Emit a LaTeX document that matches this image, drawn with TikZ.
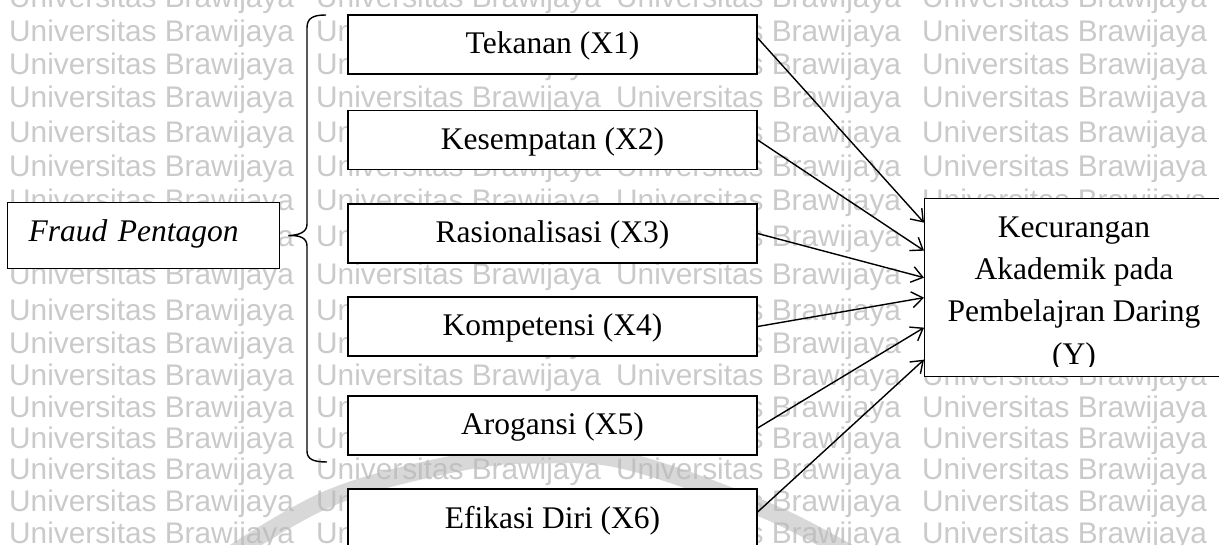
\documentclass[tikz,border=0pt]{standalone}
\usepackage{fontspec}
\setmainfont{Liberation Serif}
\newfontfamily\wmfont{Liberation Sans}
\usetikzlibrary{arrows.meta,calc}
\definecolor{wmgray}{RGB}{202,202,202}
\definecolor{logogray}{RGB}{185,185,185}
\begin{document}
\begin{tikzpicture}[x=1pt,y=-1pt,
  wm/.style={font=\wmfont\fontsize{29.8}{30}\selectfont, text=wmgray, inner sep=0pt, anchor=base west},
  xbox/.style={draw=black, line width=1.3pt, fill=white, minimum width=409pt, minimum height=59pt,
    inner sep=0pt, text height=22pt, text depth=3pt, font=\fontsize{31.5}{38}\selectfont},
  fbox/.style={draw=black, line width=1.3pt, fill=white, minimum height=66pt, inner xsep=21pt, inner ysep=0pt,
    text width=230pt, align=left, text height=22pt, text depth=10pt, font=\fontsize{31.5}{38}\selectfont\itshape},
  ybox/.style={draw=black, line width=1.3pt, fill=white, minimum width=300pt, minimum height=178pt, inner sep=0pt},
  ytext/.style={align=center, inner sep=0pt, font=\fontsize{31.5}{42}\selectfont},
  arr/.style={line width=1.4pt, -{Straight Barb[length=11pt,width=16pt,line width=1.4pt]}},
  bracepath/.style={line width=1.4pt},
  logoband/.style={line width=17pt, draw=logogray, opacity=0.55},
]
\useasboundingbox (0,0) rectangle (1219,545);
\clip (0,0) rectangle (1219,545);
\fill[white] (0,0) rectangle (1219,545);

% watermark text
\foreach \yc [count=\r] in {-3,31,64,97,132,166,200,236,274,310,343,375,407,438,469,501,533}{
  \foreach \xc [count=\c] in {9,316,616,922}{
    \node[wm] (wm-\r-\c) at (\xc,\yc+10.5) {Universitas Brawijaya};
  }
}
% faint logo arc
\draw[logoband] plot[smooth, tension=0.6] coordinates {(215,565) (330,498) (463,462) (545,455) (630,462) (770,512) (870,565)};

% boxes
\node[fbox, anchor=north west] (fraud) at (7,202) {Fraud Pentagon};
\node[xbox] (x1) at (552.5,44.5) {Tekanan (X1)};
\node[xbox] (x2) at (552.5,140) {Kesempatan (X2)};
\node[xbox] (x3) at (552.5,233.5) {Rasionalisasi (X3)};
\node[xbox] (x4) at (552.5,326.5) {Kompetensi (X4)};
\node[xbox] (x5) at (552.5,425.5) {Arogansi (X5)};
\node[xbox] (x6) at (552.5,518.5) {Efikasi Diri (X6)};
\node[ybox, anchor=north west] (yb) at (924,198) {};
\begin{scope}
  \clip (924,198) rectangle (1230,367);
  \node[ytext, anchor=north] (yt) at (1074,217) {Kecurangan\\Akademik pada\\Pembelajran Daring\\[1pt](Y)};
\end{scope}

% brace
\coordinate (btip) at ($(fraud.east)+(8pt,0)$);
\draw[bracepath] (326,15) .. controls (313,15) and (307,18) .. (307,28) -- (307,224)
  .. controls (307,232) and (300,235) .. (btip)
  .. controls (300,235) and (307,238) .. (307,246) -- (307,451)
  .. controls (307,459) and (313,462) .. (327,462);

% arrows
\draw[arr] ([yshift=6.5pt]x1.east) -- ([yshift=65pt]yb.west);
\draw[arr] (x2.east) -- ([yshift=37pt]yb.west);
\draw[arr] (x3.east) -- ([yshift=10pt]yb.west);
\draw[arr] (x4.east) -- ([yshift=-10pt]yb.west);
\draw[arr] ([yshift=-2.5pt]x5.east) -- ([yshift=-40pt]yb.west);
\draw[arr] ([yshift=6.5pt]x6.east) -- ([yshift=-72pt]yb.west);
\end{tikzpicture}
\end{document}
